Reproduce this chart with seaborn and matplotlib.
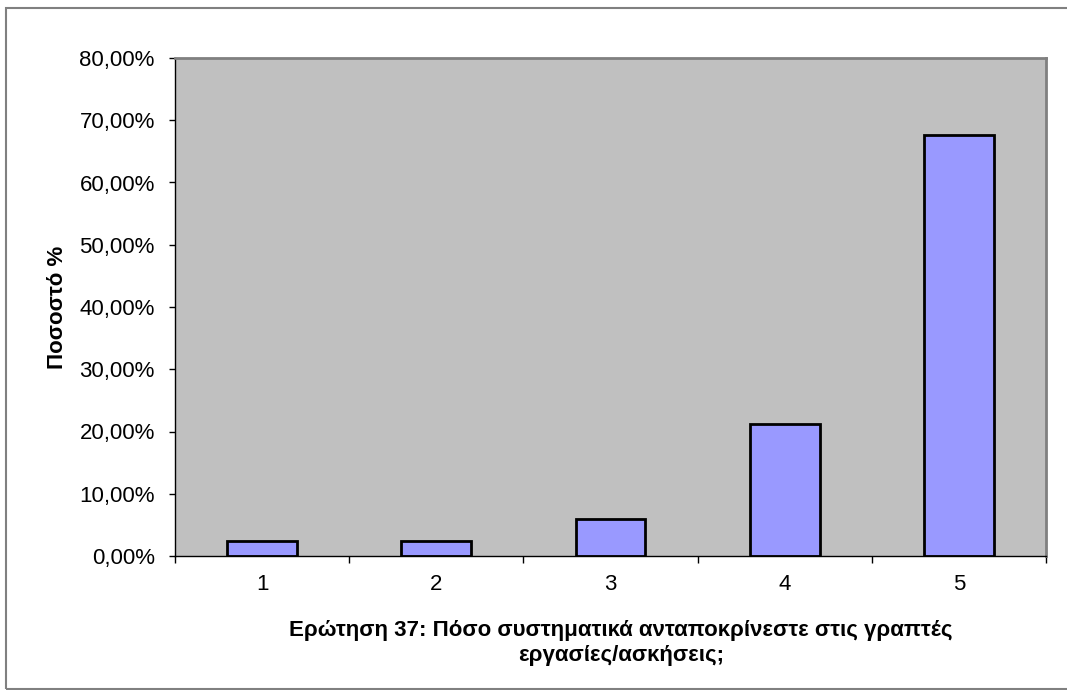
import numpy as np
import pandas as pd
import seaborn as sns
import matplotlib.pyplot as plt
from matplotlib.ticker import FuncFormatter, FixedLocator
from matplotlib.patches import Rectangle

categories = ['1', '2', '3', '4', '5']
percent = [0.0246, 0.0246, 0.059, 0.212, 0.677]

df = pd.DataFrame({'answer': categories, 'pct': percent})

sns.set_style('white')
plt.rcParams['font.family'] = ['Liberation Sans', 'DejaVu Sans']
plt.rcParams['text.color'] = 'black'
plt.rcParams['xtick.color'] = 'black'
plt.rcParams['ytick.color'] = 'black'
plt.rcParams['axes.labelcolor'] = 'black'

fig = plt.figure(figsize=(10.67, 6.9), dpi=100)
ax = fig.add_axes([175/1067, 1 - 556/690, (1046 - 175)/1067, (556 - 58)/690])

sns.barplot(x='answer', y='pct', data=df, color='#9999FF', width=0.4,
            edgecolor='black', linewidth=2, saturation=1, ax=ax)

ax.set_facecolor('#C0C0C0')
ax.set_ylim(0, 0.8)
ax.set_xlim(-0.5, 4.5)
ax.set_yticks(np.arange(0, 0.81, 0.1))
ax.yaxis.set_major_formatter(FuncFormatter(lambda v, p: f'{v*100:.2f}%'.replace('.', ',')))
ax.tick_params(axis='y', length=4.5, width=1, labelsize=16, pad=10, left=True)
ax.tick_params(axis='x', which='major', length=0, labelsize=16, pad=13)
ax.xaxis.set_minor_locator(FixedLocator(np.arange(-0.5, 4.6, 1)))
ax.tick_params(axis='x', which='minor', length=5, width=1, bottom=True)

for s in ['top', 'right']:
    ax.spines[s].set_color('#808080')
    ax.spines[s].set_linewidth(2)
for s in ['left', 'bottom']:
    ax.spines[s].set_color('black')
    ax.spines[s].set_linewidth(1)

ax.set_xlabel('')
ax.set_ylabel('Ποσοστό %', fontsize=16, fontweight='bold', labelpad=8)

fig.text(621/1067, 1 - 643/690,
         'Ερώτηση 37: Πόσο συστηματικά ανταποκρίνεστε στις γραπτές\nεργασίες/ασκήσεις;',
         ha='center', va='center', fontsize=16, fontweight='bold', linespacing=1.3)

fig.patches.append(Rectangle((6/1067, 1 - 689/690), 1.2, (689 - 8)/690,
                             transform=fig.transFigure, fill=False,
                             edgecolor='#808080', linewidth=1.5))

fig.savefig('out.png', dpi=100)
